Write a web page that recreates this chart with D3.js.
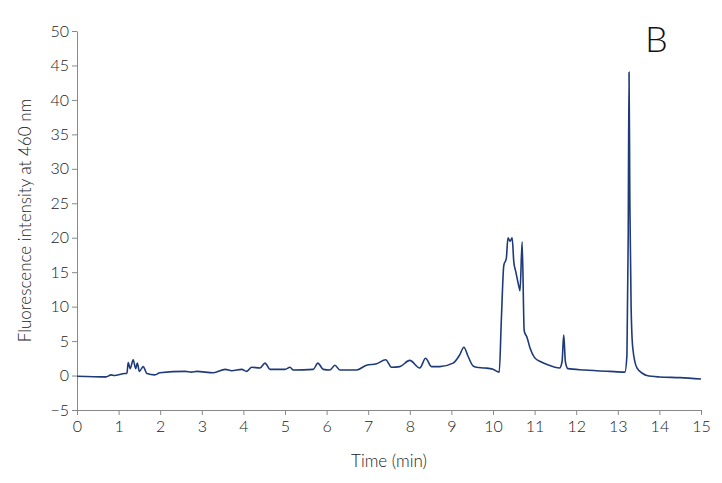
<!DOCTYPE html>
<html><head><meta charset="utf-8">
<script src="https://cdn.jsdelivr.net/npm/d3@7"></script>
<style>body{margin:0;background:#fff}text{font-family:Lato,"Noto Sans",sans-serif}</style>
</head><body><svg id="c" width="722" height="483"></svg>
<script>
const xTicks = d3.range(0,16,1);
const yTicks = d3.range(-5,51,5);
const times = [0,0.7,0.82,0.9,1.15,1.2,1.23,1.28,1.35,1.41,1.45,1.5,1.59,1.68,1.87,1.99,2.6,2.75,2.88,3.28,3.56,3.72,3.96,4.08,4.2,4.4,4.52,4.64,5.0,5.12,5.2,5.68,5.79,5.92,6.08,6.2,6.32,6.72,6.96,7.2,7.42,7.56,7.76,8.0,8.24,8.38,8.52,8.72,9.04,9.2,9.3,9.4,9.52,9.6,9.8,10.0,10.15,10.2,10.26,10.32,10.36,10.41,10.46,10.5,10.55,10.62,10.65,10.7,10.75,10.82,10.89,11.0,11.15,11.3,11.6,11.66,11.7,11.74,11.8,12.2,12.8,13.17,13.22,13.25,13.27,13.29,13.32,13.36,13.46,13.6,13.7,14.0,14.5,15];
const values = [-0.1,-0.2,0.1,0.0,0.3,0.3,1.9,1.0,2.3,1.0,1.8,0.6,1.3,0.3,0.1,0.4,0.6,0.5,0.6,0.4,0.9,0.7,0.9,0.6,1.2,1.1,1.8,0.9,0.9,1.2,0.8,0.9,1.8,0.9,0.8,1.5,0.8,0.8,1.5,1.7,2.3,1.2,1.3,2.2,1.1,2.5,1.3,1.3,1.8,3.0,4.1,2.8,1.4,1.2,1.1,0.9,0.5,8,16,17,20,19.5,20,16.5,15,13,12.3,19.4,6.5,5.5,4,2.6,2.0,1.6,1.1,2,5.9,2,1.0,0.8,0.6,0.5,3,20,44,25,10,4,1.1,0.3,0,-0.2,-0.3,-0.5];
const W=722,H=483,m={l:77,r:21,t:31,b:73};
const svg=d3.select("#c");
const x=d3.scaleLinear().domain([0,15]).range([m.l,W-m.r]);
const y=d3.scaleLinear().domain([-5,50]).range([H-m.b,m.t]);
const gx=svg.append("g").attr("transform",`translate(0,${y(-5)})`).call(d3.axisBottom(x).tickValues(xTicks).tickSize(5).tickSizeOuter(0));
const gy=svg.append("g").attr("transform",`translate(${m.l},0)`).call(d3.axisLeft(y).tickValues(yTicks).tickSize(5).tickSizeOuter(0));
[gx,gy].forEach(g=>{g.selectAll("path,line").attr("stroke","#888");g.selectAll("text").attr("font-size",16).attr("font-weight",300).attr("fill","#222");});
gx.selectAll("text").attr("dy","0.85em");
svg.append("path").datum(times.map((t,i)=>[t,values[i]])).attr("fill","none").attr("stroke","#1f3a78").attr("stroke-width",1.6)
 .attr("d",d3.line().x(d=>x(d[0])).y(d=>y(d[1])).curve(d3.curveMonotoneX));
svg.append("text").attr("x",(m.l+W-m.r)/2).attr("y",467).attr("text-anchor","middle").attr("font-size",17).attr("font-weight",300).attr("fill","#222").text("Time (min)");
svg.append("text").attr("transform",`translate(31,${(m.t+H-m.b)/2}) rotate(-90)`).attr("text-anchor","middle").attr("font-size",17).attr("font-weight",300).attr("fill","#222").text("Fluorescence intensity at 460 nm");
svg.append("text").attr("x",645).attr("y",52).attr("font-size",36).attr("font-weight",300).attr("fill","#111").text("B");
</script></body></html>
